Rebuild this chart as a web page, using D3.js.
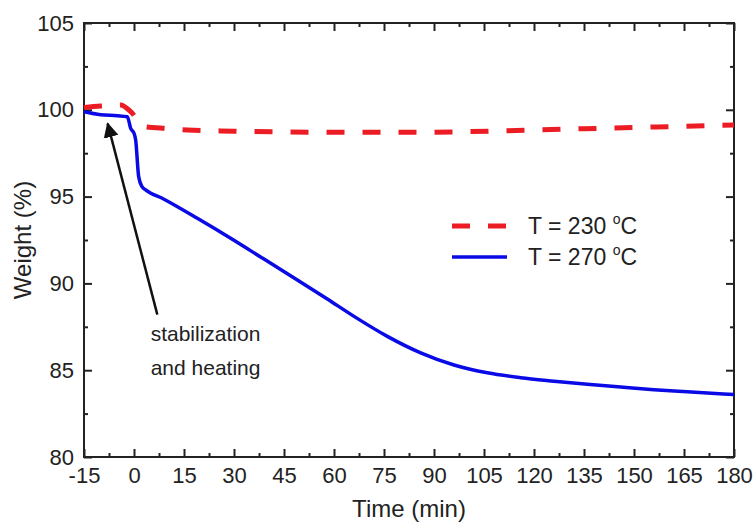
<!DOCTYPE html>
<html>
<head>
<meta charset="utf-8">
<script src="https://cdn.jsdelivr.net/npm/d3@7"></script>
<style>
  body { margin: 0; background: #fff; }
  text { font-family: "Liberation Sans", Arial, sans-serif; fill: #222; }
</style>
</head>
<body>
<div id="chart"></div>
<script>
// T = 230 oC run
const time230 = [-15, -10, -4, -1, 3, 10, 16, 30, 45, 60, 80, 100, 120, 135, 150, 165, 180];
const weight230 = [100.14, 100.22, 100.28, 99.9, 99.03, 98.92, 98.84, 98.77, 98.72, 98.70, 98.70, 98.74, 98.84, 98.91, 98.98, 99.05, 99.12];

// T = 270 oC run
const time270 = [-15, -10, -5, -2, -1, 0, 0.5, 1.4, 2.4, 3.4, 9, 19, 29, 39, 49, 58, 66, 76, 86, 96, 106, 116, 126, 136, 146, 156, 166, 180];
const weight270 = [99.89, 99.72, 99.66, 99.6, 98.93, 98.65, 98.26, 96.15, 95.57, 95.4, 94.85, 93.75, 92.6, 91.4, 90.2, 89.1, 88.1, 86.95, 86.0, 85.3, 84.85, 84.57, 84.37, 84.19, 84.03, 83.88, 83.76, 83.6];

const xTicks = [-15, 0, 15, 30, 45, 60, 75, 90, 105, 120, 135, 150, 165, 180];
const yTicks = [80, 85, 90, 95, 100, 105];
const legendLabels = ["T = 230 ", "T = 270 "];

const width = 754, height = 524;
const margin = {top: 23, right: 20, bottom: 67, left: 84};

const svg = d3.select("#chart").append("svg")
  .attr("width", width)
  .attr("height", height);

const x = d3.scaleLinear().domain([-15, 180]).range([margin.left, width - margin.right]);
const y = d3.scaleLinear().domain([80, 105]).range([height - margin.bottom, margin.top]);

const xMinor = d3.range(-15, 181, 7.5).filter(v => !xTicks.includes(v));
const yMinor = d3.range(80, 105.1, 2.5).filter(v => !yTicks.includes(v));

// ticks (inward on all four sides)
function addTicks(axisFn, scale, pos, vals, len, showLabels) {
  const g = svg.append("g")
    .attr("transform", pos)
    .call(axisFn(scale).tickValues(vals).tickSize(-len).tickPadding(10)
      .tickFormat(showLabels ? (d => String(d)) : ""));
  g.select(".domain").remove();
  g.selectAll(".tick line").attr("stroke", "#222").attr("stroke-width", 2);
  g.selectAll("text").attr("font-size", 22).attr("fill", "#222");
  return g;
}
const bottomY = height - margin.bottom, rightX = width - margin.right;
const gx = addTicks(d3.axisBottom, x, `translate(0,${bottomY})`, xTicks, 8, true);
gx.selectAll("text").attr("y", 26).attr("dy", 0);
addTicks(d3.axisBottom, x, `translate(0,${bottomY})`, xMinor, 4, false);
addTicks(d3.axisTop, x, `translate(0,${margin.top})`, xTicks, 8, false);
addTicks(d3.axisTop, x, `translate(0,${margin.top})`, xMinor, 4, false);
addTicks(d3.axisLeft, y, `translate(${margin.left},0)`, yTicks, 8, true);
addTicks(d3.axisLeft, y, `translate(${margin.left},0)`, yMinor, 4, false);
addTicks(d3.axisRight, y, `translate(${rightX},0)`, yTicks, 8, false);
addTicks(d3.axisRight, y, `translate(${rightX},0)`, yMinor, 4, false);

// frame
svg.append("rect")
  .attr("x", margin.left).attr("y", margin.top)
  .attr("width", rightX - margin.left).attr("height", bottomY - margin.top)
  .attr("fill", "none").attr("stroke", "#222").attr("stroke-width", 2);

// lines
const line = d3.line().x(d => x(d[0])).y(d => y(d[1])).curve(d3.curveMonotoneX);
const red = "#ec1c24", blue = "#0a0ae6";

svg.append("path")
  .datum(time230.map((t, i) => [t, weight230[i]]))
  .attr("d", line)
  .attr("fill", "none").attr("stroke", red).attr("stroke-width", 5)
  .attr("stroke-dasharray", "18,18");

svg.append("path")
  .datum(time270.map((t, i) => [t, weight270[i]]))
  .attr("d", line)
  .attr("fill", "none").attr("stroke", blue).attr("stroke-width", 3.5)
  .attr("stroke-linejoin", "round");

// arrow annotation
svg.append("defs").append("marker")
  .attr("id", "head").attr("viewBox", "0 0 10 10")
  .attr("refX", 9).attr("refY", 5)
  .attr("markerWidth", 6).attr("markerHeight", 7)
  .attr("markerUnits", "strokeWidth")
  .attr("orient", "auto")
  .append("path").attr("d", "M0,0 L10,5 L0,10 z").attr("fill", "#111");

svg.append("line")
  .attr("x1", x(7)).attr("y1", y(88.2))
  .attr("x2", x(-7.9)).attr("y2", y(99.2))
  .attr("stroke", "#111").attr("stroke-width", 2.5)
  .attr("marker-end", "url(#head)");

svg.append("text").attr("x", x(5)).attr("y", y(86.7)).attr("font-size", 21).text("stabilization");
svg.append("text").attr("x", x(5)).attr("y", y(84.7)).attr("font-size", 21).text("and heating");

// legend
const legend = svg.append("g");
const legY = [226, 257];
[{c: red, dash: "18,18", w: 5}, {c: blue, dash: null, w: 3.5}].forEach((s, i) => {
  legend.append("line")
    .attr("x1", 452).attr("x2", 507).attr("y1", legY[i]).attr("y2", legY[i])
    .attr("stroke", s.c).attr("stroke-width", s.w)
    .attr("stroke-dasharray", s.dash);
  const t = legend.append("text")
    .attr("x", 528).attr("y", legY[i]).attr("dy", "0.36em")
    .attr("font-size", 23);
  t.append("tspan").text(legendLabels[i]);
  t.append("tspan").attr("font-size", 14).attr("dy", "-0.75em").text("o");
  t.append("tspan").attr("dy", "0.46em").text("C");
});

// axis titles
svg.append("text")
  .attr("x", (margin.left + rightX) / 2).attr("y", 517)
  .attr("text-anchor", "middle").attr("font-size", 24)
  .text("Time (min)");

svg.append("text")
  .attr("transform", `translate(31,${(margin.top + bottomY) / 2}) rotate(-90)`)
  .attr("text-anchor", "middle").attr("font-size", 24)
  .text("Weight (%)");
</script>
</body>
</html>
